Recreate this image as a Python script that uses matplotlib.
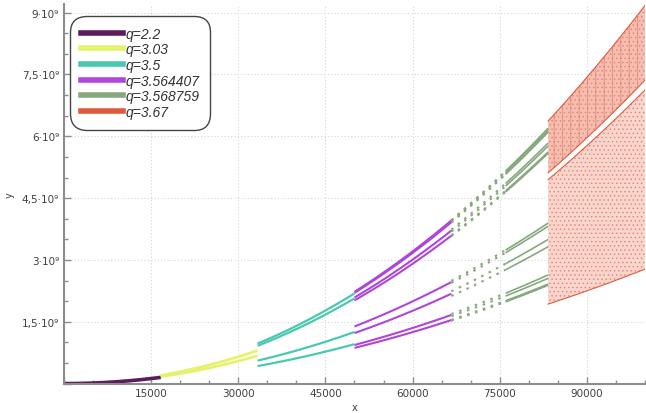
import numpy as np
import matplotlib.pyplot as plt
from matplotlib.ticker import MultipleLocator, FuncFormatter

# ------------------------------
# Data: y / x^2 levels per q segment
# ------------------------------
q_labels = ["q=2.2", "q=3.03", "q=3.5", "q=3.564407", "q=3.568759", "q=3.67"]
colors = ["#5b1b5c", "#e6f26c", "#48c9b0", "#b046d9", "#88a87e", "#e0593d"]
seg_edges = [0, 16667, 33333, 50000, 66667, 83333, 100000]

levels_22 = [0.5455]
levels_303 = [0.6076, 0.7224]
levels_35 = [0.3828, 0.5009, 0.8269, 0.8750]
levels_3564 = [0.3468, 0.3747, 0.4906, 0.5542, 0.8074, 0.8352, 0.8806, 0.8908]
levels_3568 = [0.3434, 0.3479, 0.3679, 0.3797, 0.4783, 0.5037, 0.5499, 0.5609,
               0.8047, 0.8097, 0.8299, 0.8405, 0.8790, 0.8833, 0.8905, 0.8921]
chaos_bands = [(0.2778, 0.7126), (0.7363, 0.9175)]   # q=3.67

# where the q=3.568759 lines stop looking dotted
green_solid_from = 76000

# ------------------------------
# Figure
# ------------------------------
plt.rcParams["hatch.linewidth"] = 0.5
fig = plt.figure(figsize=(6.46, 4.14), dpi=100)
ax = fig.add_axes([0.099, 0.071, 0.8995, 0.916])

def curve(lo, hi):
    xs = np.linspace(lo, hi, 200)
    return xs, xs ** 2

periodic = [levels_22, levels_303, levels_35, levels_3564]
widths = [2.6, 2.0, 1.6, 1.5]
for i, lev in enumerate(periodic):
    xs, x2 = curve(seg_edges[i], seg_edges[i + 1])
    for v in lev:
        ax.plot(xs, v * x2, color=colors[i], lw=widths[i], solid_capstyle="butt")

# q=3.568759: dotted start, then solid
xs_a, x2_a = curve(seg_edges[4], green_solid_from)
xs_b, x2_b = curve(green_solid_from, seg_edges[5])
for v in levels_3568:
    ax.plot(xs_a, v * x2_a, color=colors[4], lw=1.5, ls=(0, (1.2, 2.8)))
    ax.plot(xs_b, v * x2_b, color=colors[4], lw=1.2, solid_capstyle="butt")

# q=3.67: chaotic bands
xs, x2 = curve(seg_edges[5], seg_edges[6])
band_faces = ["#f8d6ce", "#f4bfb2"]
band_hatch = ["....", "||...."]
band_edges = ["#e8826b", "#e8816a"]
for j, (lo, hi) in enumerate(chaos_bands):
    ax.fill_between(xs, lo * x2, hi * x2, facecolor=band_faces[j], edgecolor=band_edges[j],
                    hatch=band_hatch[j], lw=0)
    ax.plot(xs, lo * x2, color=colors[5], lw=0.8)
    ax.plot(xs, hi * x2, color=colors[5], lw=0.8)

# ------------------------------
# Axes styling
# ------------------------------
ax.set_xlim(0, 100000)
ax.set_ylim(0, 9.2e9)
ax.xaxis.set_major_locator(MultipleLocator(15000))
ax.xaxis.set_minor_locator(MultipleLocator(5000))
ax.yaxis.set_major_locator(MultipleLocator(1.5e9))
ax.yaxis.set_minor_locator(MultipleLocator(0.5e9))

def xfmt(v, pos):
    return "" if v == 0 else "%d" % v

def yfmt(v, pos):
    if v == 0:
        return ""
    m = v / 1e9
    s = ("%g" % m).replace(".", ",")
    return s + "·10⁹"

ax.xaxis.set_major_formatter(FuncFormatter(xfmt))
ax.yaxis.set_major_formatter(FuncFormatter(yfmt))

for s in ["top", "right"]:
    ax.spines[s].set_visible(False)
for s in ["left", "bottom"]:
    ax.spines[s].set_color("#8c8c8c")
    ax.spines[s].set_linewidth(1.5)

ax.tick_params(which="both", direction="in", color="#8c8c8c", labelcolor="#404040",
               labelsize=7.5)
ax.tick_params(which="major", length=5, width=1)
ax.tick_params(which="minor", length=3, width=1)
ax.grid(True, which="major", ls=(0, (1, 2)), color="#d4d4d4", lw=0.8)
ax.set_axisbelow(True)

ax.set_xlabel("x", fontsize=7, color="#404040", va="center")
ax.xaxis.set_label_coords(0.5, -0.062)
ax.set_ylabel("y", fontsize=7, color="#404040")
ax.yaxis.set_label_coords(-0.085, 0.5)

# ------------------------------
# Legend
# ------------------------------
handles = [plt.Line2D([], [], color=c, lw=4) for c in colors]
leg = ax.legend(handles, q_labels, loc="upper left", bbox_to_anchor=(0.006, 0.978),
                handlelength=3.0, handletextpad=0.15, labelspacing=0.12,
                borderpad=0.8, borderaxespad=0.2,
                prop={"family": "Liberation Sans", "style": "italic", "size": 10},
                frameon=True, fancybox=True, framealpha=1)
leg.get_frame().set_edgecolor("#444444")
leg.get_frame().set_linewidth(1.0)
leg.get_frame().set_boxstyle("round,pad=0,rounding_size=1.2")
for t in leg.get_texts():
    t.set_color("#333333")

fig.savefig("out.png", dpi=100)
